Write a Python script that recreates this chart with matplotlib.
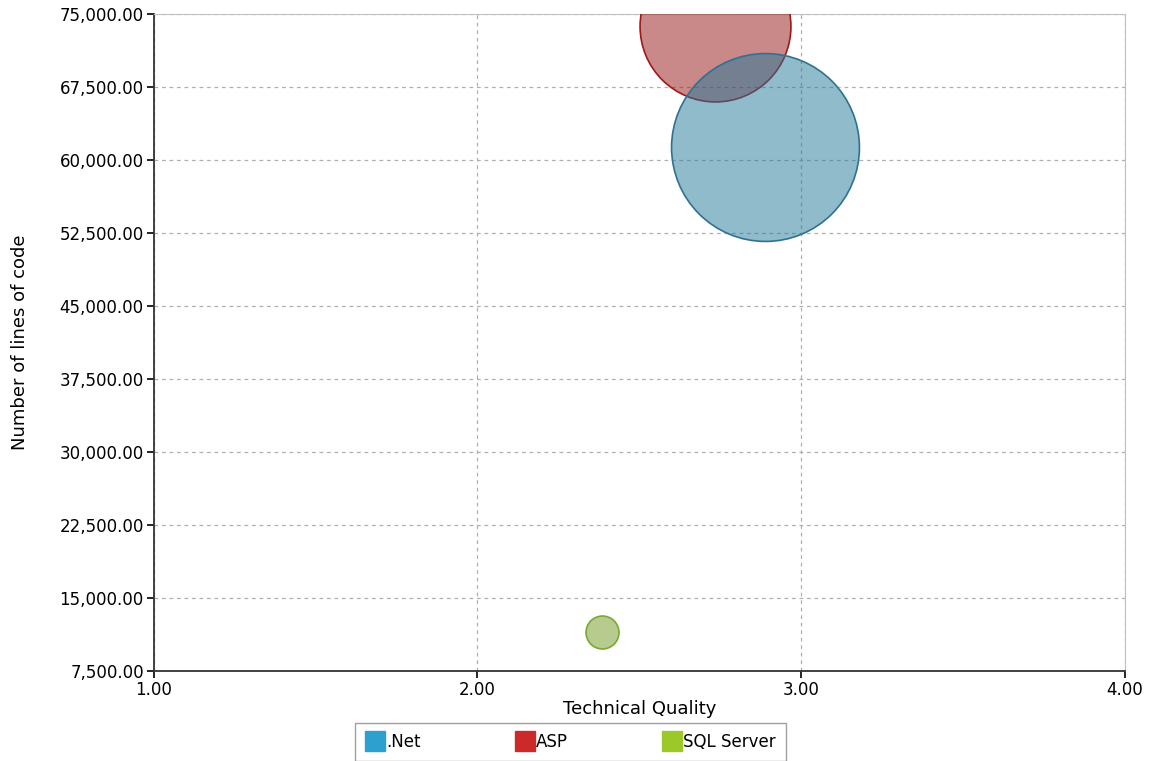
import matplotlib
matplotlib.use("Agg")
import matplotlib.pyplot as plt
from matplotlib.lines import Line2D
from matplotlib.ticker import FuncFormatter

# data
technologies = [".Net", "ASP", "SQL Server"]
technical_quality = [2.888, 2.735, 2.384]
lines_of_code = [61400, 73800, 11550]
bubble_size = [8840, 5700, 272]   # relative bubble area

face_colors = [(0.13, 0.47, 0.60, 0.5), (0.58, 0.08, 0.08, 0.5), (0.44, 0.60, 0.13, 0.5)]
edge_colors = ["#2f7193", "#a01818", "#7aa832"]
legend_colors = ["#2ea0d0", "#cc2a2a", "#9cc82a"]

x_ticks = [1, 2, 3, 4]
y_ticks = [7500, 15000, 22500, 30000, 37500, 45000, 52500, 60000, 67500, 75000]

plt.rcParams["font.family"] = "DejaVu Sans"
fig = plt.figure(figsize=(11.51, 7.61), dpi=100)
ax = fig.add_axes([0.1334, 0.1183, 0.8440, 0.8627])

# bubbles, .Net drawn over ASP like the original
order = [1, 0, 2]
for i in order:
    ax.scatter(technical_quality[i], lines_of_code[i], s=bubble_size[i] * 2.07,
               facecolors=[face_colors[i]], edgecolors=edge_colors[i],
               linewidths=1.2, zorder=3)

ax.set_xlim(1, 4)
ax.set_ylim(7500, 75000)
ax.set_xticks(x_ticks)
ax.set_yticks(y_ticks)
ax.xaxis.set_major_formatter(FuncFormatter(lambda v, p: "{:.2f}".format(v)))
ax.yaxis.set_major_formatter(FuncFormatter(lambda v, p: "{:,.2f}".format(v)))
ax.tick_params(direction="out", length=5, width=1.2, labelsize=12, colors="black", pad=2)

ax.grid(True, color="#b0b0b0", linestyle=(0, (3, 3)), linewidth=0.9, zorder=0)
ax.set_axisbelow(True)

for side in ["top", "right"]:
    ax.spines[side].set_color("#c0c0c0")
for side in ["left", "bottom"]:
    ax.spines[side].set_color("#333333")
    ax.spines[side].set_linewidth(1.3)

ax.set_xlabel("Technical Quality", fontsize=13, labelpad=1)
ax.set_ylabel("Number of lines of code", fontsize=13, labelpad=22)

handles = [Line2D([], [], marker="s", linestyle="none", markersize=14,
                  markerfacecolor=c, markeredgecolor=c) for c in legend_colors]
leg = fig.legend(handles, technologies, loc="upper left", ncol=3,
                 bbox_to_anchor=(355 / 1151, 1 - 723 / 761),
                 borderaxespad=0, fontsize=12, frameon=True, fancybox=False,
                 handletextpad=0.1, borderpad=0.6, handlelength=1.2,
                 columnspacing=5.6)
leg.get_frame().set_edgecolor("#888888")
leg.get_frame().set_linewidth(1.0)

fig.savefig("out.png", dpi=100)
